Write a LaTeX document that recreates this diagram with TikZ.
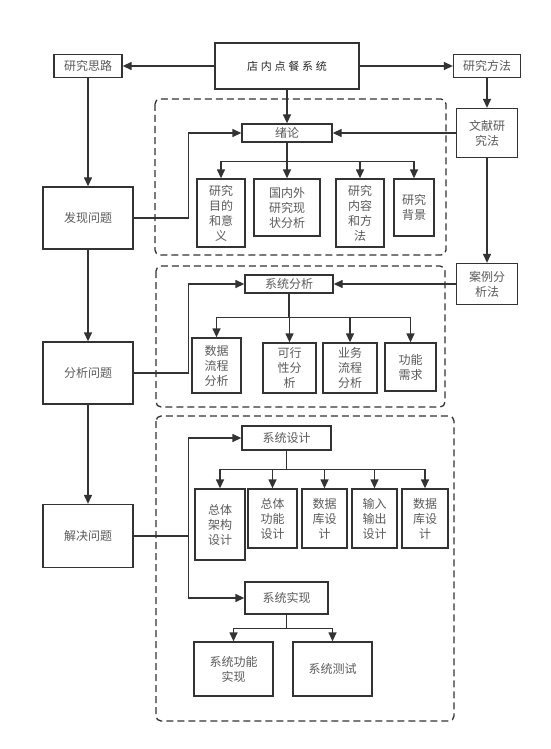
\documentclass[tikz,border=0pt]{standalone}
\usepackage{fontspec}
\usepackage{xcolor}
\usepackage{tikz}
\usetikzlibrary{arrows.meta}
\newfontfamily\cjk{Noto Sans CJK SC}
\newfontfamily\cjkwide[LetterSpace=25]{Noto Sans CJK SC}
\definecolor{linegray}{HTML}{333333}
\definecolor{textgray}{HTML}{5A5A5A}

\begin{document}
\begin{tikzpicture}[x=1pt,y=-1pt,
  box/.style={draw=linegray,line width=1.3pt,fill=white,align=center,inner sep=0pt,
    text=textgray,font=\cjk\fontsize{12}{15}\selectfont},
  arr/.style={draw=linegray,line width=1.3pt,-{Triangle[length=9pt,width=8pt]}},
  ln/.style={draw=linegray,line width=1.3pt},
  group/.style={draw=linegray,line width=1.3pt,dash pattern=on 7pt off 4pt,rounded corners=5pt}]
\useasboundingbox (0,0) rectangle (551,749);
\draw [group] (155,99) rectangle (446,255);
\draw [group] (156,266) rectangle (445,407);
\draw [group] (156,416) rectangle (454,721);
\node [box,minimum width=144pt,minimum height=46pt,text=black!85] (sys) at (287,66) {\cjkwide\fontsize{11}{13}\selectfont 店内点餐系统};
\node [box,minimum width=68pt,minimum height=23pt] (silu) at (88,66) {研究思路};
\node [box,minimum width=67pt,minimum height=23pt] (fangfa) at (487,66) {研究方法};
\node [box,minimum width=61pt,minimum height=49pt] (wenxian) at (487,133) {文献研\\究法};
\node [box,minimum width=61pt,minimum height=41pt] (anli) at (487,284) {案例分\\析法};
\node [box,minimum width=90pt,minimum height=62pt] (faxian) at (88,218) {发现问题};
\node [box,minimum width=90pt,minimum height=62pt] (fenxi) at (88,373) {分析问题};
\node [box,minimum width=90pt,minimum height=63pt] (jiejue) at (88,536) {解决问题};
\node [box,minimum width=90pt,minimum height=18pt] (xulun) at (287,133) {绪论};
\node [box,minimum width=48pt,minimum height=68pt] (a1) at (221,213) {研究\\目的\\和意\\义};
\node [box,minimum width=66pt,minimum height=57pt] (a2) at (287,207.5) {国内外\\研究现\\状分析};
\node [box,minimum width=48pt,minimum height=68pt] (a3) at (360,213) {研究\\内容\\和方\\法};
\node [box,minimum width=40pt,minimum height=57pt] (a4) at (414,207.5) {研究\\背景};
\node [box,minimum width=88pt,minimum height=18pt] (xtfx) at (289,284) {系统分析};
\node [box,minimum width=49pt,minimum height=55pt] (b1) at (216.5,365.5) {数据\\流程\\分析};
\node [box,minimum width=53pt,minimum height=50pt] (b2) at (289.5,368) {可行\\性分\\析};
\node [box,minimum width=54pt,minimum height=50pt] (b3) at (350,368) {业务\\流程\\分析};
\node [box,minimum width=51pt,minimum height=48pt] (b4) at (410.5,367) {功能\\需求};
\node [box,minimum width=89pt,minimum height=24pt] (xtsj) at (286.5,438) {系统设计};
\node [box,minimum width=50pt,minimum height=71pt] (c1) at (220,524.5) {总体\\架构\\设计};
\node [box,minimum width=49pt,minimum height=59pt] (c2) at (272.5,518.5) {总体\\功能\\设计};
\node [box,minimum width=45pt,minimum height=59pt] (c3) at (324.5,518.5) {数据\\库设\\计};
\node [box,minimum width=45pt,minimum height=59pt] (c4) at (374.5,518.5) {输入\\输出\\设计};
\node [box,minimum width=46pt,minimum height=59pt] (c5) at (425,518.5) {数据\\库设\\计};
\node [box,minimum width=83pt,minimum height=32pt] (xtsx) at (286.5,598) {系统实现};
\node [box,minimum width=79pt,minimum height=54pt] (d1) at (233.5,669) {系统功能\\实现};
\node [box,minimum width=79pt,minimum height=54pt] (d2) at (332.5,669) {系统测试};
\draw [arr] (sys) -- (silu);
\draw [arr] (sys) -- (fangfa);
\draw [arr] (sys) -- (xulun);
\draw [arr] (silu) -- (faxian);
\draw [arr] (faxian) -- (fenxi);
\draw [arr] (fenxi) -- (jiejue);
\draw [arr] (fangfa) -- (wenxian);
\draw [arr] (wenxian) -- (anli);
\draw [arr] (wenxian) -- (xulun);
\draw [arr] (anli) -- (xtfx);
\draw [ln] (faxian.east) -- ++(55,0) coordinate (fd);
\draw [arr] (fd) |- (xulun.west);
\draw [ln] (fenxi.east) -- ++(55,0) coordinate (nd);
\draw [arr] (nd) |- (xtfx.west);
\draw [ln] (jiejue.east) -- ++(55,0) coordinate (jd);
\draw [arr] (jd) |- (xtsj.west);
\draw [arr] (jd) |- (xtsx.west);
\draw [ln] (xulun.south) -- ++(0,19) coordinate (xb);
\draw [arr] (xb) -| (a1.north);
\draw [arr] (xb) -| (a2.north);
\draw [arr] (xb) -| (a3.north);
\draw [arr] (xb) -| (a4.north);
\draw [ln] (xtfx.south) -- ++(0,24) coordinate (fb);
\draw [arr] (fb) -| (b1.north);
\draw [arr] (fb) -| (b2.north);
\draw [arr] (fb) -| (b3.north);
\draw [arr] (fb) -| (b4.north);
\draw [ln] (xtsj.south) -- ++(0,19) coordinate (sb);
\draw [arr] (sb) -| (c1.north);
\draw [arr] (sb) -| (c2.north);
\draw [arr] (sb) -| (c3.north);
\draw [arr] (sb) -| (c4.north);
\draw [arr] (sb) -| (c5.north);
\draw [ln] (xtsx.south) -- ++(0,14) coordinate (xsb);
\draw [arr] (xsb) -| (d1.north);
\draw [arr] (xsb) -| (d2.north);
\end{tikzpicture}
\end{document}
